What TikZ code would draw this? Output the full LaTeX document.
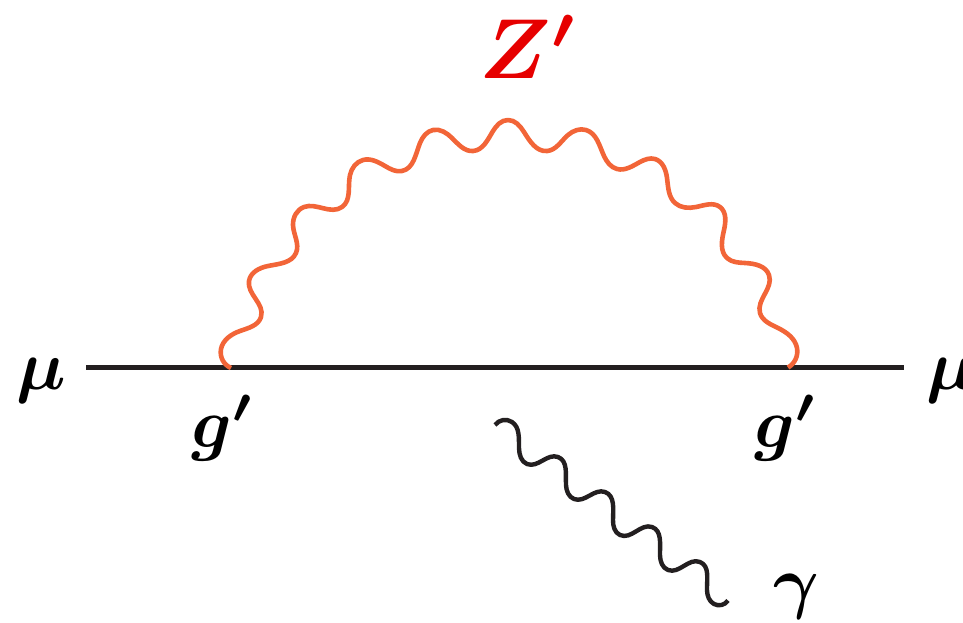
\documentclass[tikz,border=0pt]{standalone}
\usepackage{amsmath,bm}
\usetikzlibrary{hobby}
\definecolor{wavered}{HTML}{F26538}
\definecolor{labelred}{HTML}{E60000}
\definecolor{linedark}{HTML}{231F20}
\tikzset{
  fermion/.style={draw=linedark,line width=5pt},
  redwave/.style={draw=wavered,line width=4.6pt,line join=round,use Hobby shortcut},
  blackwave/.style={draw=linedark,line width=4.4pt,line join=round,use Hobby shortcut},
  lab/.style={inner sep=0pt,scale=7,transform shape}
}
\begin{document}
\begin{tikzpicture}[x=1pt,y=-1pt]
\useasboundingbox (0,0) rectangle (963,622);
\coordinate (a) at (86,367);
\coordinate (b) at (904,367);
\coordinate (v1) at (231,368);
\coordinate (v2) at (788,367.5);
\coordinate (ps) at (495,425);
\coordinate (pe) at (728,600.5);
\draw[fermion] (a) -- (b);
\draw[redwave] (v1) .. (221,349) .. (240,331) .. (261,317) .. (249,281) .. (268,266) .. (296,253) .. (293,225) .. (304,207) .. (342,207) .. (350,175) .. (363,160) .. (385,166) .. (402,171) .. (420,143) .. (433,130) .. (452,138) .. (473,151) .. (493,131) .. (508,120) .. (524,132) .. (547,151) .. (568,135) .. (586,130) .. (604,156) .. (617,169) .. (640,162) .. (655,159) .. (667,178) .. (675,203) .. (696,207) .. (720,207) .. (724,230) .. (727,258) .. (745,263) .. (769,275) .. (760,313) .. (778,328) .. (797,348) .. (v2);
\draw[blackwave] (ps) .. (512,422) .. (519,448) .. (527,464) .. (558,457) .. (566,485) .. (574,499) .. (605,492) .. (613,520) .. (620,535) .. (652,527) .. (660,555) .. (668,570) .. (700,562) .. (707,590) .. (714,604) .. (pe);
\node[lab,text=labelred,scale=8.5/7] (zp) at (529,47) {$\boldsymbol{Z'}$};
\node[lab,anchor=center] (mul) at (41,381) {$\boldsymbol{\mu}$};
\node[lab,anchor=west] (mur) at (925,381) {$\boldsymbol{\mu}$};
\node[lab] (gl) at (223,428) {$\boldsymbol{g'}$};
\node[lab] (gr) at (786,428) {$\boldsymbol{g'}$};
\node[lab] (gam) at (796,597) {$\boldsymbol{\gamma}$};
\end{tikzpicture}
\end{document}
